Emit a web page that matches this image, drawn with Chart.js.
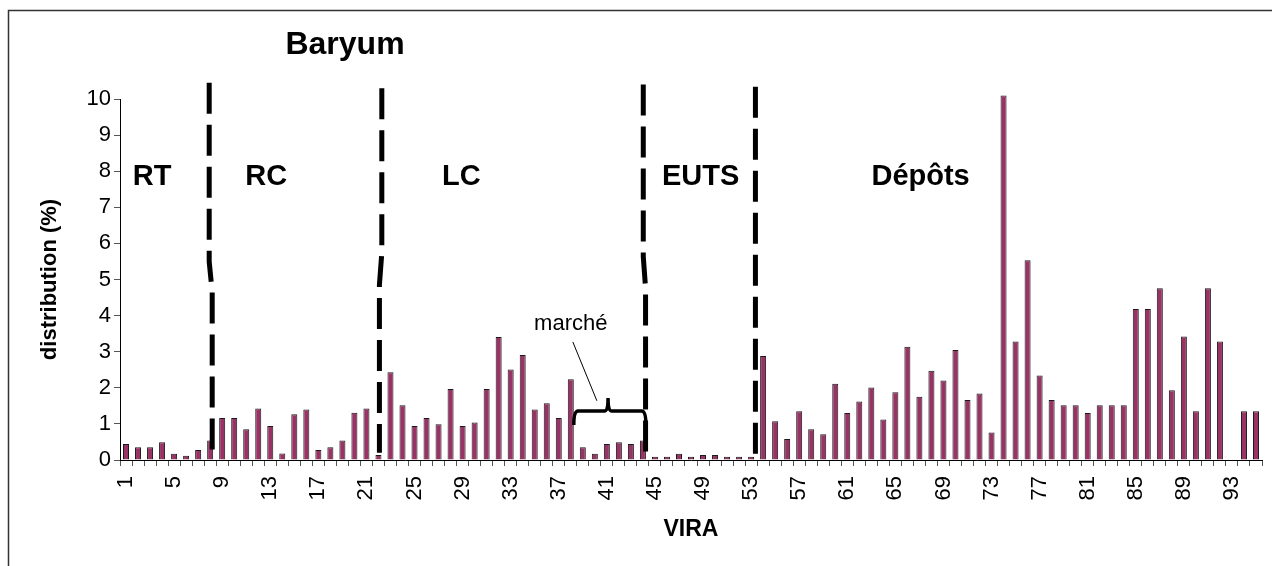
<!DOCTYPE html>
<html>
<head>
<meta charset="utf-8">
<script src="https://cdn.jsdelivr.net/npm/chart.js@4.4.1/dist/chart.umd.min.js"></script>
<style>
  html, body { margin: 0; padding: 0; background: #fff; }
  #wrap { width: 1272px; height: 566px; }
</style>
</head>
<body>
<div id="wrap"><canvas id="baryumChart" width="1272" height="566"></canvas></div>
<script>
// VIRA categories 1..95
const vira = [];
for (let i = 1; i <= 95; i++) vira.push(String(i));

// only every 4th category gets a printed label
const tickLabels = ['1', '5', '9', '13', '17', '21', '25', '29', '33', '37', '41', '45',
    '49', '53', '57', '61', '65', '69', '73', '77', '81', '85', '89', '93'];

// distribution (%)
const distribution = [
    0.44, 0.35, 0.35, 0.49, 0.17, 0.12, 0.28, 0.54, 1.16, 1.16,
    0.85, 1.43, 0.94, 0.18, 1.27, 1.40, 0.28, 0.35, 0.54, 1.31,
    1.43, 0.14, 2.43, 1.52, 0.94, 1.16, 0.99, 1.97, 0.94, 1.04,
    1.97, 3.41, 2.51, 2.91, 1.40, 1.57, 1.16, 2.24, 0.35, 0.17,
    0.44, 0.49, 0.44, 0.54, 0.09, 0.09, 0.17, 0.09, 0.14, 0.14,
    0.09, 0.09, 0.09, 2.88, 1.07, 0.58, 1.35, 0.85, 0.71, 2.11,
    1.30, 1.62, 2.01, 1.12, 1.88, 3.14, 1.75, 2.47, 2.20, 3.05,
    1.66, 1.84, 0.76, 10.1, 3.28, 5.53, 2.34, 1.66, 1.52, 1.52,
    1.30, 1.52, 1.52, 1.52, 4.18, 4.18, 4.76, 1.93, 3.42, 1.35,
    4.76, 3.28, null, 1.35, 1.35
];

// zone labels, placed in axis units (category index, %)
const zoneNames = ['RT', 'RC', 'LC', 'EUTS', 'Dépôts'];
const zoneX = [2.17, 11.67, 27.9, 47.8, 66.1];
const zoneY = 7.85;

// dashed separators: [index, value] points (with the little kink)
const separators = [
    [[6.92, 10.45], [6.92, 5.49], [7.17, 4.66], [7.17, 0]],
    [[21.28, 10.3], [21.28, 5.74], [21.08, 4.85], [21.08, 0.2]],
    [[43.03, 10.4], [43.03, 5.63], [43.22, 4.77], [43.22, 0]],
    [[52.36, 10.34], [52.36, 0.14]]
];

const overlay = {
    id: 'overlay',
    beforeDraw(chart) {
        const ctx = chart.ctx;
        ctx.save();
        ctx.fillStyle = '#fff';
        ctx.fillRect(0, 0, chart.width, chart.height);
        ctx.strokeStyle = '#333';
        ctx.lineWidth = 1.5;
        ctx.strokeRect(8.5, 10.5, 1400, 700);
        ctx.restore();
    },
    afterDatasetsDraw(chart) {
        const ctx = chart.ctx;
        const xs = chart.scales.x, ys = chart.scales.y;
        const px = v => xs.getPixelForValue(v);
        const py = v => ys.getPixelForValue(v);
        ctx.save();

        // dashed zone separators
        ctx.strokeStyle = '#000';
        ctx.lineWidth = 5;
        ctx.setLineDash([31, 11]);
        separators.forEach(pts => {
            ctx.beginPath();
            pts.forEach((p, k) => {
                if (k === 0) ctx.moveTo(px(p[0]), py(p[1]));
                else ctx.lineTo(px(p[0]), py(p[1]));
            });
            ctx.stroke();
        });
        ctx.setLineDash([]);

        // zone names
        ctx.fillStyle = '#000';
        ctx.font = 'bold 29px Arial, "Liberation Sans", sans-serif';
        ctx.textAlign = 'center';
        ctx.textBaseline = 'middle';
        zoneNames.forEach((t, i) => ctx.fillText(t, px(zoneX[i]), py(zoneY)));

        // "marché" note with pointer and brace
        ctx.font = '22px Arial, "Liberation Sans", sans-serif';
        ctx.fillText('marché', px(37.0), py(3.77));
        ctx.lineWidth = 1;
        ctx.beginPath();
        ctx.moveTo(px(37.17), py(3.27));
        ctx.lineTo(px(39.17), py(1.64));
        ctx.stroke();

        ctx.lineWidth = 3.5;
        ctx.beginPath();
        ctx.moveTo(px(37.25), py(0.97));
        ctx.quadraticCurveTo(px(37.25), py(1.36), px(37.6), py(1.36));
        ctx.lineTo(px(39.8), py(1.36));
        ctx.quadraticCurveTo(px(40.1), py(1.36), px(40.1), py(1.72));
        ctx.quadraticCurveTo(px(40.1), py(1.36), px(40.4), py(1.36));
        ctx.lineTo(px(42.9), py(1.36));
        ctx.quadraticCurveTo(px(43.25), py(1.36), px(43.25), py(0.97));
        ctx.stroke();

        // chart title
        ctx.font = 'bold 32px Arial, "Liberation Sans", sans-serif';
        ctx.fillText('Baryum', 345, 45);
        ctx.restore();
    }
};

new Chart(document.getElementById('baryumChart'), {
    type: 'bar',
    data: {
        labels: vira,
        datasets: [{
            label: 'Baryum',
            data: distribution,
            backgroundColor: '#993366',
            borderColor: '#1a1a1a',
            borderWidth: 1,
            barPercentage: 0.5,
            categoryPercentage: 1,
            clip: false
        }]
    },
    options: {
        responsive: false,
        animation: false,
        devicePixelRatio: 1,
        layout: { padding: { top: 99, right: 10, left: 0, bottom: 0 } },
        plugins: {
            legend: { display: false },
            tooltip: { enabled: false }
        },
        scales: {
            x: {
                grid: { drawOnChartArea: false, tickLength: 6, color: '#555', offset: true },
                border: { color: '#000', width: 1 },
                ticks: {
                    autoSkip: false,
                    minRotation: 90,
                    maxRotation: 90,
                    padding: 10,
                    color: '#000',
                    font: { family: 'Arial, "Liberation Sans", sans-serif', size: 22 },
                    callback: function (val, idx) {
                        const lab = vira[idx];
                        return tickLabels.includes(lab) ? lab : '';
                    }
                },
                title: {
                    display: true,
                    text: 'VIRA',
                    color: '#000',
                    font: { family: 'Arial, "Liberation Sans", sans-serif', size: 23, weight: 'bold' },
                    padding: { top: 0, bottom: 23 }
                },
                afterFit(scale) {
                    scale.height = 106;
                    scale.paddingLeft = 0;
                    scale.paddingRight = 0;
                }
            },
            y: {
                min: 0,
                max: 10,
                grid: { drawOnChartArea: false, tickLength: 6, color: '#555' },
                border: { color: '#000', width: 1 },
                ticks: {
                    stepSize: 1,
                    padding: 3,
                    color: '#000',
                    font: { family: 'Arial, "Liberation Sans", sans-serif', size: 22 }
                },
                title: {
                    display: true,
                    text: 'distribution (%)',
                    color: '#000',
                    font: { family: 'Arial, "Liberation Sans", sans-serif', size: 22, weight: 'bold' },
                    padding: { top: 37, bottom: 0 }
                },
                afterFit(scale) {
                    scale.width = 120;
                    scale.paddingTop = 0;
                    scale.paddingBottom = 0;
                }
            }
        }
    },
    plugins: [overlay]
});
</script>
</body>
</html>
